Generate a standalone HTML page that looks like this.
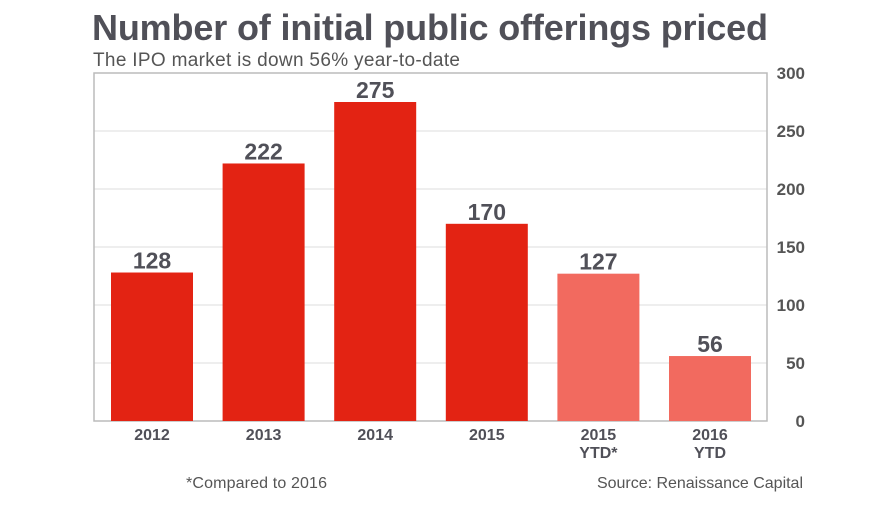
<!DOCTYPE html>
<html><head><meta charset="utf-8"><style>
body{margin:0;background:#fff;width:890px;height:501px;overflow:hidden;font-family:"Liberation Sans",sans-serif}
</style></head><body>
<svg width="890" height="501">
<text x="92" y="40" font-size="36" font-weight="bold" fill="#505058" textLength="676">Number of initial public offerings priced</text>
<text x="93" y="66" font-size="19" fill="#555" textLength="367">The IPO market is down 56% year-to-date</text>
<g id="grid"></g>
<rect x="94" y="73" width="673" height="348" fill="none" stroke="#bbb" stroke-width="1.5"/>
<g id="bars"></g>
<text x="186" y="488" font-size="16" fill="#555" textLength="141">*Compared to 2016</text>
<text x="597" y="488" font-size="16" fill="#555" textLength="206">Source: Renaissance Capital</text>
</svg>
<script>
const categories=["2012","2013","2014","2015","2015|YTD*","2016|YTD"];
const values=[128,222,275,170,127,56];
const highlight=[false,false,false,false,true,true];
const ticks=[0,50,100,150,200,250,300];
const NS="http://www.w3.org/2000/svg";
const y0=421,y1=73,vmax=300;
function y(v){return y0-(v/vmax)*(y0-y1);}
function x(i){return 152+i*111.6;}
const grid=document.getElementById('grid'),bars=document.getElementById('bars');
function mk(tag,attrs,parent,txt){const e=document.createElementNS(NS,tag);for(const k in attrs)e.setAttribute(k,attrs[k]);if(txt!==undefined)e.textContent=txt;parent.appendChild(e);return e;}
ticks.forEach(t=>{
 if(t>0&&t<vmax){const l=mk('line',{x1:94,x2:767,y1:y(t),y2:y(t),stroke:'#ddd','stroke-width':1},grid);
 
 }
 const tx=mk('text',{x:805,y:y(t)+6,'text-anchor':'end','font-size':17,'font-weight':'bold',fill:'#555'},grid,t);
 
 
});
categories.forEach((c,i)=>{
 const w=82,cx=x(i),v=values[i];
 const r=mk('rect',{x:cx-w/2,y:y(v),width:w,height:y0-y(v),fill:highlight[i]?'#f26a5f':'#e32313'},bars);
 
 
 const vl=mk('text',{x:cx,y:y(v)-4,'text-anchor':'middle','font-size':23,'font-weight':'bold',fill:'#505058'},bars,v);
 
 
 c.split('|').forEach((p,j)=>{
  const t=mk('text',{x:cx,y:440+j*18,'text-anchor':'middle','font-size':16,'font-weight':'bold',fill:'#505058'},bars,p);
  
  
 });
});
</script>
</body></html>
